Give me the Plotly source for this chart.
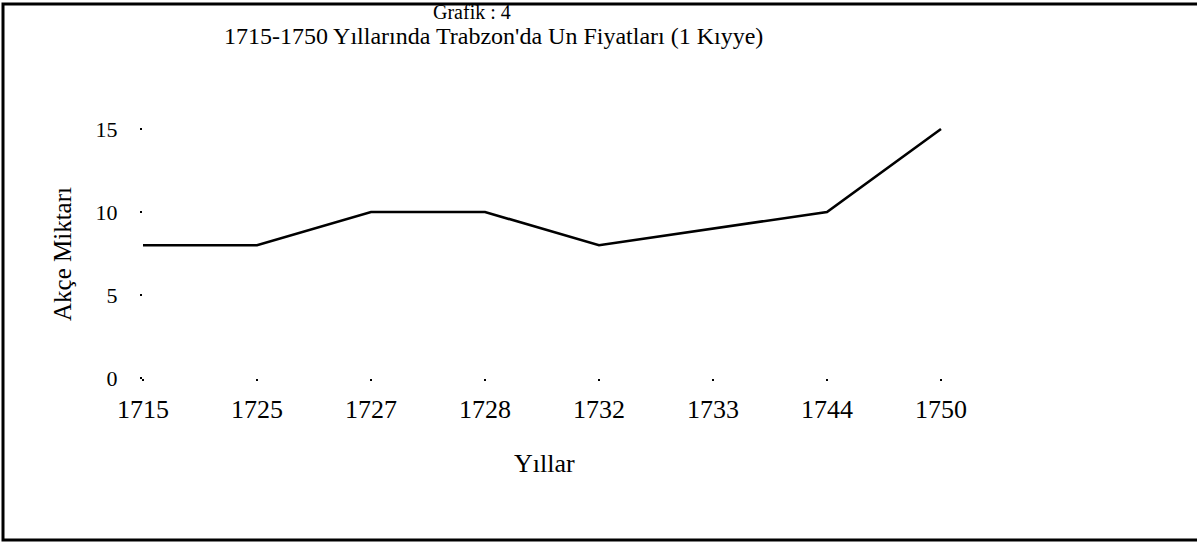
import plotly.graph_objects as go

years = ["1715", "1725", "1727", "1728", "1732", "1733", "1744", "1750"]
prices = [8, 8, 10, 10, 8, 9, 10, 15]
y_ticks = [0, 5, 10, 15]

W, H = 1197, 542
L, R, T, B = 143, 28, 46, 164
pw, ph = W - L - R, H - T - B

def px(x):
    return (x - L) / pw

def py(y):
    return (H - B - y) / ph

FONT = "Liberation Serif, Times New Roman, serif"

fig = go.Figure()
fig.add_trace(go.Scatter(
    x=years, y=prices, mode="lines",
    line=dict(color="black", width=2.6),
    cliponaxis=False, showlegend=False,
))

fig.update_layout(
    width=W, height=H,
    margin=dict(l=L, r=R, t=T, b=B),
    paper_bgcolor="white", plot_bgcolor="white",
    font=dict(family=FONT, color="black"),
    showlegend=False,
    xaxis=dict(
        type="category", range=[0, 9],
        showgrid=False, zeroline=False, showline=False,
        ticks="outside", ticklen=2, tickwidth=2, tickcolor="black",
        tickfont=dict(size=26, family=FONT, color="black"),
        ticklabelstandoff=6,
    ),
    yaxis=dict(
        range=[0, 20], tickvals=y_ticks,
        showgrid=False, zeroline=False, showline=False,
        ticks="outside", ticklen=2, tickwidth=2, tickcolor="black",
        tickfont=dict(size=22, family=FONT, color="black"),
        ticklabelstandoff=18,
    ),
    annotations=[
        dict(text="Grafik : 4", x=px(472), y=py(12), xref="paper", yref="paper",
             showarrow=False, xanchor="center", yanchor="middle",
             font=dict(size=20, family=FONT, color="black")),
        dict(text="1715-1750 Yıllarında Trabzon'da Un Fiyatları (1 Kıyye)",
             x=px(493), y=py(36), xref="paper", yref="paper",
             showarrow=False, xanchor="center", yanchor="middle",
             font=dict(size=24, family=FONT, color="black")),
        dict(text="Akçe Miktarı", x=px(62), y=py(254), xref="paper", yref="paper",
             showarrow=False, xanchor="center", yanchor="middle", textangle=-90,
             font=dict(size=25, family=FONT, color="black")),
        dict(text="Yıllar", x=px(544), y=py(463), xref="paper", yref="paper",
             showarrow=False, xanchor="center", yanchor="middle",
             font=dict(size=26, family=FONT, color="black")),
    ],
    shapes=[
        dict(type="rect", xref="paper", yref="paper",
             x0=px(3), x1=px(1201), y0=py(540), y1=py(4),
             line=dict(color="black", width=3), fillcolor="rgba(0,0,0,0)",
             layer="below"),
    ],
)

fig.write_html("out.html", config={"displayModeBar": False},
               post_script="document.body.style.margin='0';")
